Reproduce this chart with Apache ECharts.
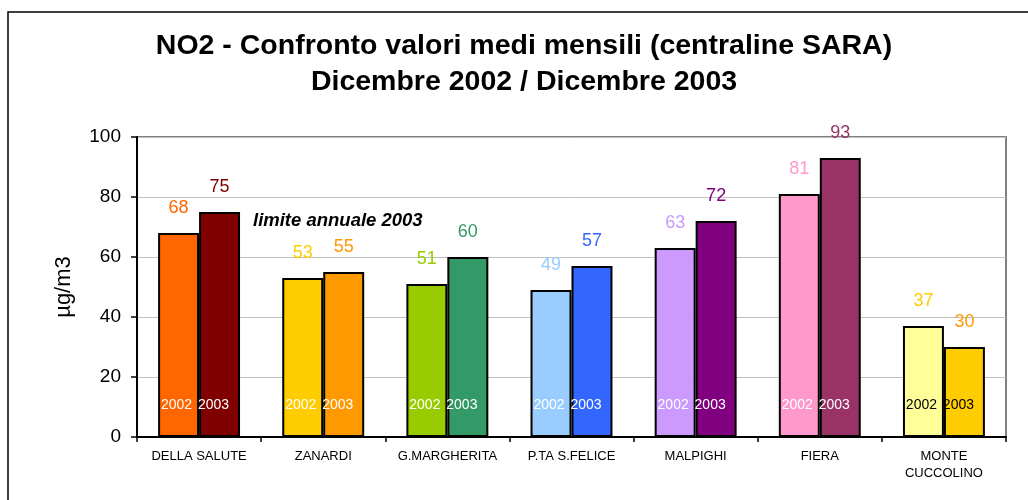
<!DOCTYPE html>
<html>
<head>
<meta charset="utf-8">
<script src="https://cdn.jsdelivr.net/npm/echarts@6/dist/echarts.min.js"></script>
<style>
  html, body { margin: 0; padding: 0; background: #fff; }
  #chart { width: 1028px; height: 500px; }
</style>
</head>
<body>
<div id="chart"></div>
<script>
const stations = ["DELLA SALUTE", "ZANARDI", "G.MARGHERITA", "P.TA S.FELICE", "MALPIGHI", "FIERA", "MONTE\nCUCCOLINO"];
const values2002 = [68, 53, 51, 49, 63, 81, 37];
const values2003 = [75, 55, 60, 57, 72, 93, 30];
const yTicks = { min: 0, max: 100, interval: 20 };

const barColors2002 = ["#FF6600", "#FFCC00", "#99CC00", "#99CCFF", "#CC99FF", "#FF99CC", "#FFFF99"];
const barColors2003 = ["#800000", "#FF9900", "#339966", "#3366FF", "#800080", "#993366", "#FFCC00"];
const labelColors2002 = ["#FF6600", "#FFCC00", "#99CC00", "#99CCFF", "#CC99FF", "#FF99CC", "#FFCC00"];
const labelColors2003 = ["#800000", "#FF9900", "#339966", "#3366FF", "#800080", "#993366", "#FF9900"];
const yearLabelColors = ["#fff", "#fff", "#fff", "#fff", "#fff", "#fff", "#000"];

const FONT = "Liberation Sans, Arial, sans-serif";

function valueSeries(name, values, fills, labelColors) {
    return {
        name: name,
        type: "bar",
        xAxisIndex: 0,
        barGap: "0%",
        barCategoryGap: "34%",
        data: values.map((v, i) => ({
            value: v,
            itemStyle: { color: fills[i] },
            label: { color: labelColors[i] }
        })),
        itemStyle: { borderColor: "#000", borderWidth: 2 },
        label: {
            show: true,
            position: "top",
            distance: 16,
            fontFamily: FONT,
            fontSize: 18
        }
    };
}

// transparent twin bars on a hidden axis, only to carry the year text
function yearSeries(name, values, dx) {
    return {
        name: name + " label",
        type: "bar",
        xAxisIndex: 1,
        barGap: "0%",
        barCategoryGap: "34%",
        silent: true,
        z: 5,
        data: values.map((v, i) => ({
            value: v,
            label: { color: yearLabelColors[i] }
        })),
        itemStyle: { color: "rgba(0,0,0,0)", borderWidth: 0 },
        label: {
            show: true,
            position: "insideBottom",
            distance: 25,
            offset: [dx, 0],
            formatter: name,
            fontFamily: FONT,
            fontSize: 14
        }
    };
}

const chart = echarts.init(document.getElementById("chart"), null, { renderer: "canvas" });

chart.setOption({
    animation: false,
    backgroundColor: "#fff",
    title: {
        text: "NO2 - Confronto valori medi mensili (centraline SARA)\nDicembre 2002 / Dicembre 2003",
        left: 524,
        top: 28,
        padding: 0,
        textAlign: "center",
        textStyle: {
            fontFamily: FONT,
            fontSize: 28.5,
            fontWeight: "bold",
            color: "#000",
            lineHeight: 36
        }
    },
    graphic: [
        {
            type: "rect",
            shape: { x: 8, y: 12, width: 1100, height: 600 },
            style: { fill: "none", stroke: "#000", lineWidth: 1.5 },
            silent: true
        },
        {
            type: "text",
            x: 253,
            y: 221,
            style: {
                text: "limite annuale 2003",
                fontFamily: FONT,
                fontSize: 18.5,
                fontWeight: "bold",
                fontStyle: "italic",
                fill: "#000",
                textVerticalAlign: "middle"
            },
            z: 10
        }
    ],
    grid: {
        left: 137,
        right: 22,
        top: 137,
        bottom: 63,
        show: true,
        borderColor: "#808080",
        borderWidth: 2
    },
    xAxis: [
        {
            type: "category",
            data: stations,
            axisLine: { lineStyle: { color: "#000", width: 2 } },
            axisTick: { show: true, length: 5, lineStyle: { color: "#000", width: 1.5 } },
            axisLabel: {
                interval: 0,
                margin: 11,
                color: "#000",
                fontFamily: FONT,
                fontSize: 13,
                lineHeight: 17
            }
        },
        {
            type: "category",
            data: stations,
            show: false
        }
    ],
    yAxis: {
        type: "value",
        min: yTicks.min,
        max: yTicks.max,
        interval: yTicks.interval,
        name: "µg/m3",
        nameLocation: "middle",
        nameGap: 62,
        nameTextStyle: { fontFamily: FONT, fontSize: 22, color: "#000" },
        axisLine: { show: true, lineStyle: { color: "#000", width: 2 } },
        axisTick: { show: true, length: 6, lineStyle: { color: "#000", width: 1.5 } },
        axisLabel: { color: "#000", fontFamily: FONT, fontSize: 19, margin: 16 },
        splitLine: { lineStyle: { color: "#c0c0c0", width: 1 } }
    },
    series: [
        valueSeries("2002", values2002, barColors2002, labelColors2002),
        valueSeries("2003", values2003, barColors2003, labelColors2003),
        yearSeries("2002", values2002, -2),
        yearSeries("2003", values2003, -6)
    ]
});
</script>
</body>
</html>
